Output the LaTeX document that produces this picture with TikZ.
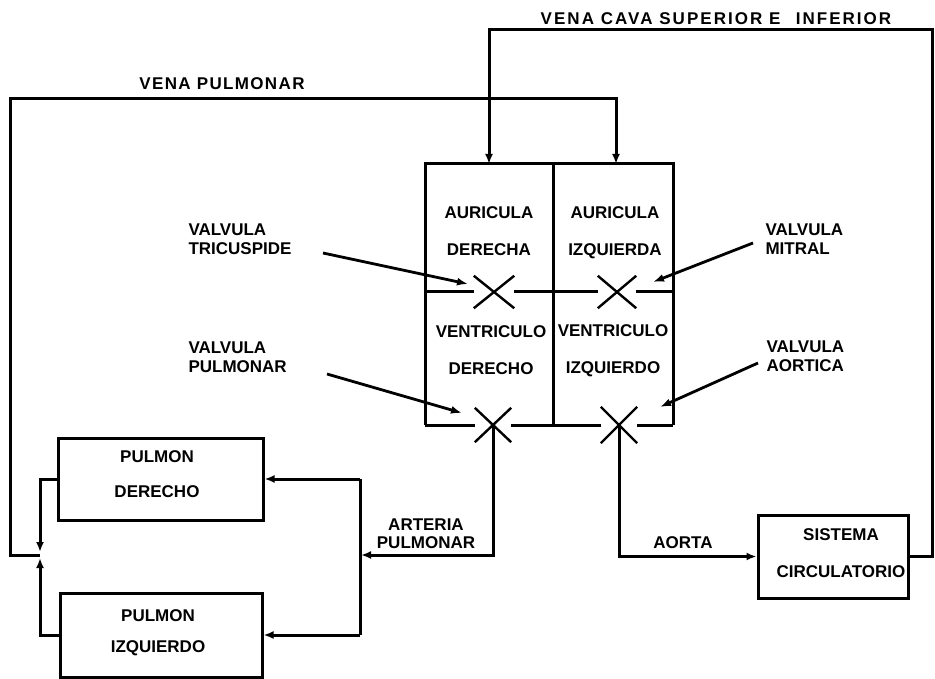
\documentclass[tikz,border=0pt]{standalone}
\usepackage{fontspec}
\setmainfont{Liberation Sans}
\newfontfamily\wideA{Liberation Sans}[LetterSpace=12]
\newfontfamily\wideB{Liberation Sans}[LetterSpace=8]
\usetikzlibrary{arrows.meta,shapes.misc}
\begin{document}
\begin{tikzpicture}[x=1pt,y=-1pt,
  line width=3pt,
  txt/.style={font=\fontsize{17}{19}\selectfont\bfseries, inner sep=0pt, align=center},
  box/.style={draw, line width=3pt, inner sep=0pt},
  valve/.style={draw, cross out, line width=2.4pt, inner sep=0pt, minimum width=36pt, minimum height=30pt},
  flow/.style={line width=3pt, -{Latex[length=10pt,width=8pt]}},
  ptr/.style={line width=2.8pt, -{Latex[length=11pt,width=8pt]}}]
\useasboundingbox (0,0) rectangle (935,679);

% titles
\node[txt] (cava) at (716,19) {\wideA VENA CAVA SUPERIOR E\hspace{0.5em} INFERIOR};
\node[txt] (vpl) at (222,84) {\wideB VENA PULMONAR};

% heart
\coordinate (hTL) at (425,164);
\coordinate (hTR) at (673,164);
\coordinate (hBL) at (425,425);
\coordinate (hBR) at (673,425);
\coordinate (hTM) at (553,164);
\coordinate (hBM) at (553,425);
\coordinate (hML) at (425,292);
\coordinate (hMR) at (673,292);
\coordinate (inR) at (489,164);
\coordinate (inL) at (616,164);
\draw (hBL) -- (hTL) -- (hTR) -- (hBR);
\draw (hTM) -- (hBM);

\node[valve, minimum width=38pt] (vT) at (494,292) {};
\node[valve, minimum width=36pt] (vM) at (617,292) {};
\node[valve, minimum width=34pt, minimum height=32pt] (vP) at (493,425) {};
\node[valve, minimum width=34pt, minimum height=34pt] (vA) at (619,425) {};
\draw (hML) -- (vT.west);
\draw (vT.east) -- (vM.west);
\draw (vM.east) -- (hMR);
\draw (hBL) -- (vP.west);
\draw (vP.east) -- (vA.west);
\draw (vA.east) -- (hBR);

\node[txt] (ad) at (489,231.5) {AURICULA\\[18pt]DERECHA};
\node[txt] (ai) at (615,232.5) {AURICULA\\[18pt]IZQUIERDA};
\node[txt] (vd) at (491,350.5) {VENTRICULO\\[18pt]DERECHO};
\node[txt] (vi) at (613,350.5) {VENTRICULO\\[18pt]IZQUIERDO};

% valve labels
\node[txt, anchor=west, align=left] (lT) at (187,239.5) {VALVULA\\TRICUSPIDE};
\node[txt, anchor=west, align=left] (lP) at (187,357) {VALVULA\\PULMONAR};
\node[txt, anchor=west, align=left] (lM) at (764,239) {VALVULA\\MITRAL};
\node[txt, anchor=west, align=left] (lA) at (765,356) {VALVULA\\AORTICA};

\coordinate (pT0) at (323,253);
\coordinate (pT1) at (468,284);
\coordinate (pP0) at (327,374);
\coordinate (pP1) at (462,413);
\coordinate (pM0) at (753,243);
\coordinate (pM1) at (653,282);
\coordinate (pA0) at (758,363);
\coordinate (pA1) at (660,407);
\draw[ptr] (pT0) -- (pT1);
\draw[ptr] (pP0) -- (pP1);
\draw[ptr] (pM0) -- (pM1);
\draw[ptr] (pA0) -- (pA1);

% lungs
\node[box, minimum width=205pt, minimum height=82pt] (pd) at (160.5,479) {};
\node[txt] (pdt) at (157,474.5) {PULMON\\[16pt]DERECHO};
\node[box, minimum width=202pt, minimum height=84pt] (pi) at (161,635) {};
\node[txt] (pit) at (158,632.5) {PULMON\\[12pt]IZQUIERDO};

% sistema circulatorio
\node[box, minimum width=150pt, minimum height=83pt] (sc) at (833,556.5) {};
\node[txt] (sct) at (841,553.5) {SISTEMA\\[18pt]CIRCULATORIO};

% flow labels
\node[txt] (art) at (426,534) {ARTERIA\\[-1pt]PULMONAR};
\node[txt] (aor) at (683,543) {AORTA};

% arteria pulmonar
\coordinate (apC) at (493,555);
\coordinate (apT) at (361,555);
\coordinate (sT) at (360,479);
\coordinate (sB) at (360,635);
\draw[flow] (vP.center) -- (apC) -- (apT);
\draw (sT) -- (sB);
\draw[flow] (sT) -- (pd.east);
\draw[flow] (sB) -- (pi.east);

% vena pulmonar
\coordinate (lj) at (40,555);
\coordinate (ljT) at (40,552);
\coordinate (ljB) at (40,558);
\coordinate (vpA) at (10,555);
\coordinate (vpB) at (10,99);
\coordinate (vpC) at (616,99);
\draw[flow] (pd.west) -- (40,479) -- (ljT);
\draw[flow] (pi.west) -- (40,635) -- (ljB);
\draw[flow] (lj) -- (vpA) -- (vpB) -- (vpC) -- (inL);

% vena cava
\coordinate (vcA) at (932,556.5);
\coordinate (vcB) at (932,30);
\coordinate (vcC) at (489,30);
\draw[flow] (sc.east) -- (vcA) -- (vcB) -- (vcC) -- (inR);

% aorta
\coordinate (aoC) at (619,556.5);
\draw[flow] (vA.center) -- (aoC) -- (sc.west);
\end{tikzpicture}
\end{document}
